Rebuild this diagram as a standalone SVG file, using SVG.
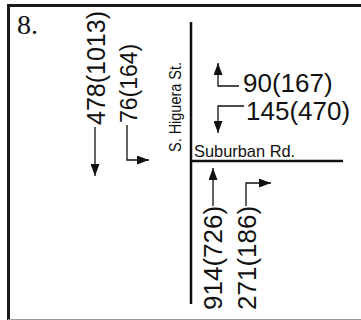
<svg xmlns="http://www.w3.org/2000/svg" width="361" height="320" viewBox="0 0 361 320">
<style>
.num{font-family:"Liberation Sans",Arial,sans-serif;fill:#111}
.lbl{font-family:"Liberation Sans",Arial,sans-serif;fill:#111}
.road{stroke:#111;stroke-width:2.5;fill:none}
.arr{stroke:#111;stroke-width:1.3;fill:none}
</style>
<defs>
<marker id="ah" viewBox="0 0 12 9" refX="12" refY="4.5" markerWidth="12" markerHeight="9" markerUnits="userSpaceOnUse" orient="auto">
<path d="M0,0 L12,4.5 L0,9 Z" fill="#111"/>
</marker>
</defs>
<rect width="361" height="320" fill="#fff"/>
<g id="frame">
<line x1="7" y1="5.5" x2="361" y2="5.5" stroke="#1a1a1a" stroke-width="3"/>
<line x1="8.5" y1="4" x2="8.5" y2="320" stroke="#1a1a1a" stroke-width="3"/>
<line x1="8" y1="319.5" x2="361" y2="319.5" stroke="#999" stroke-width="1"/>
<text x="17" y="34" font-family="'Liberation Serif','Times New Roman',serif" font-size="28" fill="#111">8.</text>
</g>
<g id="roads">
<g id="higuera">
<line class="road" x1="191" y1="22" x2="191" y2="304"/>
<text class="lbl" font-size="16" textLength="90" lengthAdjust="spacingAndGlyphs" transform="translate(181,152) rotate(-90)">S. Higuera St.</text>
</g>
<g id="suburban">
<line class="road" x1="191" y1="161" x2="343" y2="161"/>
<text class="lbl" x="194" y="157" font-size="16.4">Suburban Rd.</text>
</g>
</g>
<g id="volumes">
<g id="sb-through"><text class="num" font-size="25" transform="translate(105,125) rotate(-90)">478(1013)</text></g>
<g id="sb-left"><text class="num" font-size="23" transform="translate(137,123) rotate(-90)">76(164)</text></g>
<g id="wb-right"><text class="num" x="243" y="92" font-size="26">90(167)</text></g>
<g id="wb-left"><text class="num" x="246" y="120" font-size="26">145(470)</text></g>
<g id="nb-through"><text class="num" font-size="26" transform="translate(222,310) rotate(-90)">914(726)</text></g>
<g id="nb-right"><text class="num" font-size="26" transform="translate(256,310) rotate(-90)">271(186)</text></g>
</g>
<g id="connectors">
<path class="arr" d="M95,127 V176" marker-end="url(#ah)"/>
<path class="arr" d="M127,125 V160 H149" marker-end="url(#ah)"/>
<path class="arr" d="M239,86 H218 V63" marker-end="url(#ah)"/>
<path class="arr" d="M244,106 H218 V133" marker-end="url(#ah)"/>
<path class="arr" d="M213,206 V168" marker-end="url(#ah)"/>
<path class="arr" d="M246,206 V183 H271" marker-end="url(#ah)"/>
</g>
</svg>
